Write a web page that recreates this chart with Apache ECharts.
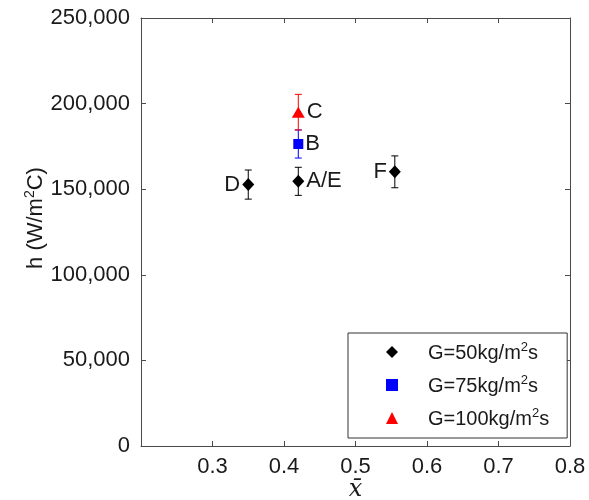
<!DOCTYPE html>
<html>
<head>
<meta charset="utf-8">
<script src="https://cdn.jsdelivr.net/npm/echarts@6/dist/echarts.min.js"></script>
<style>
  html, body { margin: 0; padding: 0; background: #fff; }
  #chart { width: 589px; height: 500px; }
</style>
</head>
<body>
<div id="chart"></div>
<script>
// Heat transfer coefficient h versus mean quality, grouped by mass flux G
const seriesNames = ['G=50kg/m2s', 'G=75kg/m2s', 'G=100kg/m2s'];
const seriesColors = ['#000000', '#0000ff', '#ff0000'];
const seriesSymbols = ['diamond', 'rect', 'triangle'];

// [x̄, h, error half-range, label]
const g50Points = [
  [0.35, 152700, 8500, 'D'],
  [0.42, 154600, 8200, 'A/E'],
  [0.555, 160150, 9300, 'F']
];
const g75Points = [
  [0.42, 176400, 8200, 'B']
];
const g100Points = [
  [0.42, 195000, 10400, 'C']
];
const labelSides = { 'D': 'left', 'F': 'left', 'A/E': 'right', 'B': 'right', 'C': 'right' };

const xTicks = { min: 0.2, max: 0.8, interval: 0.1 };
const yTicks = { min: 0, max: 250000, interval: 50000 };

const groups = [g50Points, g75Points, g100Points];
const FONT = 'Liberation Sans, Arial, sans-serif';
const TEXT = '#1a1a1a';
const AXIS = '#4a4a4a';

function withCommas(v) {
  return String(Math.round(v)).replace(/\B(?=(\d{3})+(?!\d))/g, ',');
}

const supRich = {
  n: { fontSize: 20, fontFamily: FONT, color: TEXT, verticalAlign: 'bottom', lineHeight: 22 },
  sup: { fontSize: 13, fontFamily: FONT, color: TEXT, verticalAlign: 'top', lineHeight: 22, padding: [0, 0, 8, 0] }
};

function errorBarSeries(points, color) {
  return {
    type: 'custom',
    xAxisIndex: 0,
    yAxisIndex: 0,
    silent: true,
    z: 1,
    data: points.map(p => [p[0], p[1], p[2]]),
    renderItem: function (params, api) {
      const x = api.value(0), y = api.value(1), e = api.value(2);
      const top = api.coord([x, y + e]);
      const bot = api.coord([x, y - e]);
      const cap = 3.5;
      const style = { stroke: color, lineWidth: 1 };
      return {
        type: 'group',
        children: [
          { type: 'line', shape: { x1: top[0], y1: top[1], x2: bot[0], y2: bot[1] }, style: style },
          { type: 'line', shape: { x1: top[0] - cap, y1: top[1], x2: top[0] + cap, y2: top[1] }, style: style },
          { type: 'line', shape: { x1: bot[0] - cap, y1: bot[1], x2: bot[0] + cap, y2: bot[1] }, style: style }
        ]
      };
    }
  };
}

const symbolSizes = [[12, 13], 10, [13, 11]];

function pointSeries(points, i) {
  return {
    name: seriesNames[i],
    type: 'scatter',
    xAxisIndex: 0,
    yAxisIndex: 0,
    z: 3,
    symbol: seriesSymbols[i],
    symbolSize: symbolSizes[i],
    itemStyle: { color: seriesColors[i], opacity: 1 },
    data: points.map(p => ({
      value: [p[0], p[1]],
      label: {
        show: true,
        formatter: p[3],
        position: labelSides[p[3]],
        distance: 2,
        fontSize: 22,
        fontFamily: FONT,
        color: TEXT
      }
    }))
  };
}

const series = [];
groups.forEach((pts, i) => series.push(errorBarSeries(pts, seriesColors[i])));
groups.forEach((pts, i) => series.push(pointSeries(pts, i)));

const tickStyle = { show: true, inside: true, length: 5, lineStyle: { color: AXIS, width: 1 } };
const lineStyle = { show: true, onZero: false, lineStyle: { color: AXIS, width: 1 } };

const option = {
  backgroundColor: '#ffffff',
  animation: false,
  grid: { left: 141, right: 19, top: 18, bottom: 54, containLabel: false, outerBoundsMode: 'none' },
  legend: {
    orient: 'vertical',
    left: 348,
    top: 333,
    data: seriesNames.map((n, i) => ({ name: n, icon: seriesSymbols[i] })),
    backgroundColor: '#ffffff',
    borderColor: '#333333',
    borderWidth: 1,
    borderRadius: 0,
    padding: [8, 18, 9, 38],
    itemWidth: 12,
    itemHeight: 12,
    itemGap: 11,
    selectedMode: false,
    formatter: function (name) {
      return '{n|' + name.replace('m2s', 'm') + '}{sup|2}{n|s}';
    },
    textStyle: { fontSize: 20, fontFamily: FONT, color: TEXT, lineHeight: 22, padding: [0, 0, 0, 25], rich: supRich }
  },
  xAxis: [
    {
      type: 'value',
      min: xTicks.min, max: xTicks.max, interval: xTicks.interval,
      position: 'bottom',
      name: 'x\u0304',
      nameLocation: 'middle',
      nameGap: 32,
      nameMoveOverlap: false,
      nameTextStyle: { fontSize: 24, fontFamily: 'DejaVu Serif, Liberation Serif, serif', fontStyle: 'italic', color: TEXT },
      axisLine: lineStyle,
      axisTick: tickStyle,
      splitLine: { show: false },
      axisLabel: {
        margin: 10,
        fontSize: 22,
        fontFamily: FONT,
        color: TEXT,
        showMinLabel: true,
        showMaxLabel: true,
        formatter: v => (Math.abs(v - xTicks.min) < 1e-9 ? '' : v.toFixed(1))
      }
    },
    {
      type: 'value',
      min: xTicks.min, max: xTicks.max, interval: xTicks.interval,
      position: 'top',
      axisLine: lineStyle,
      axisTick: tickStyle,
      axisLabel: { show: false },
      splitLine: { show: false }
    }
  ],
  yAxis: [
    {
      type: 'value',
      min: yTicks.min, max: yTicks.max, interval: yTicks.interval,
      position: 'left',
      name: '{n|h (W/m}{sup|2}{n|C)}',
      nameLocation: 'middle',
      nameRotate: 90,
      nameGap: 94,
      nameMoveOverlap: false,
      nameTextStyle: { fontSize: 22, fontFamily: FONT, color: TEXT, padding: [0, 0, 0, 28],
        rich: {
          n: { fontSize: 22, fontFamily: FONT, color: TEXT, verticalAlign: 'bottom', lineHeight: 24 },
          sup: { fontSize: 14, fontFamily: FONT, color: TEXT, verticalAlign: 'top', lineHeight: 24, padding: [0, 0, 8, 0] }
        } },
      axisLine: lineStyle,
      axisTick: tickStyle,
      splitLine: { show: false },
      axisLabel: {
        margin: 11,
        fontSize: 22,
        fontFamily: FONT,
        color: TEXT,
        formatter: v => withCommas(v)
      }
    },
    {
      type: 'value',
      min: yTicks.min, max: yTicks.max, interval: yTicks.interval,
      position: 'right',
      axisLine: lineStyle,
      axisTick: tickStyle,
      axisLabel: { show: false },
      splitLine: { show: false }
    }
  ],
  series: series
};

const chart = echarts.init(document.getElementById('chart'), null, { renderer: 'canvas' });
chart.setOption(option);
</script>
</body>
</html>
